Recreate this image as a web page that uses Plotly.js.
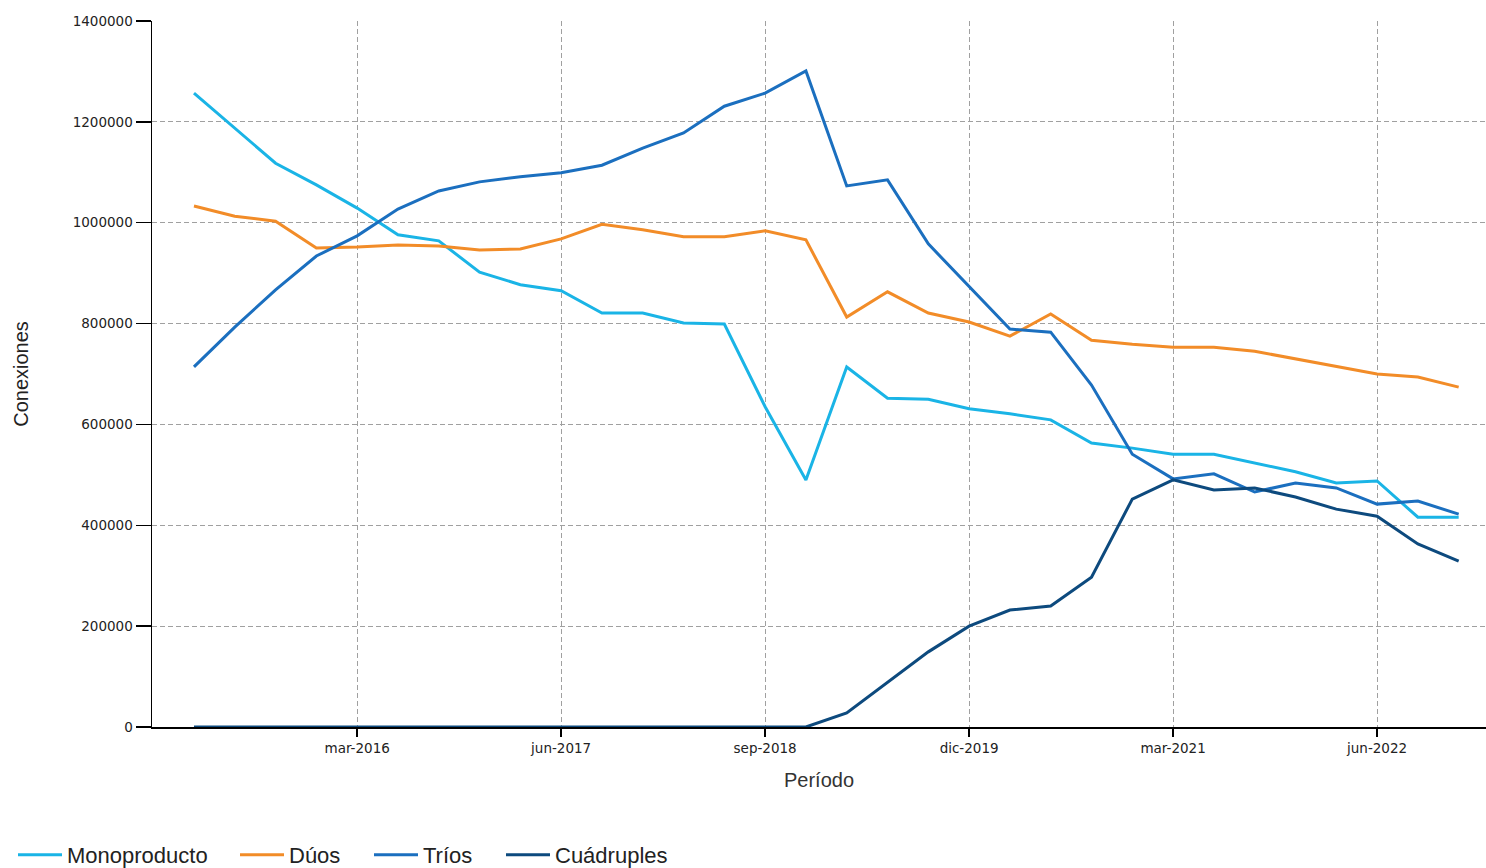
<!DOCTYPE html>
<html>
<head>
<meta charset="utf-8">
<script src="https://cdn.plot.ly/plotly-3.0.1.min.js"></script>
<style>
html,body{margin:0;padding:0;background:#fff;}
#chart{width:1486px;height:868px;}
</style>
</head>
<body>
<div id="chart"></div>
<script>
const periods = [
  "mar-2015","jun-2015","sep-2015","dic-2015",
  "mar-2016","jun-2016","sep-2016","dic-2016",
  "mar-2017","jun-2017","sep-2017","dic-2017",
  "mar-2018","jun-2018","sep-2018","dic-2018",
  "mar-2019","jun-2019","sep-2019","dic-2019",
  "mar-2020","jun-2020","sep-2020","dic-2020",
  "mar-2021","jun-2021","sep-2021","dic-2021",
  "mar-2022","jun-2022","sep-2022","dic-2022"
];
const monoproducto = [1257000,1188000,1118000,1075000,1029000,976000,964000,902000,877000,865000,821000,821000,801000,799000,635000,490000,714000,652000,650000,631000,621000,609000,563000,553000,541000,541000,524000,506000,484000,488000,416000,416000];
const duos = [1033000,1013000,1003000,950000,952000,956000,954000,946000,948000,968000,997000,986000,972000,972000,984000,966000,813000,863000,821000,803000,775000,819000,767000,759000,753000,753000,745000,730000,714000,700000,694000,674000];
const trios = [714000,793000,867000,934000,974000,1027000,1063000,1081000,1091000,1099000,1114000,1148000,1178000,1231000,1257000,1301000,1073000,1085000,958000,873000,789000,783000,678000,541000,492000,502000,466000,484000,474000,442000,448000,422000];
const cuadruples = [0,0,0,0,0,0,0,0,0,0,0,0,0,0,0,0,28000,89000,149000,200000,232000,240000,297000,452000,490000,470000,474000,456000,432000,418000,363000,329000];

const seriesNames = ["Monoproducto","Dúos","Tríos","Cuádruples"];
const seriesColors = ["#1ab4e6","#f28c28","#1b6fbf","#0d4a7e"];
const seriesValues = [monoproducto, duos, trios, cuadruples];

const xTickVals = ["mar-2016","jun-2017","sep-2018","dic-2019","mar-2021","jun-2022"];
const yTickVals = [0,200000,400000,600000,800000,1000000,1200000,1400000];

const W = 1486, H = 868;
const legendIds = ["legend","legend2","legend3","legend4"];
const legendLeftPx = [13, 235, 369, 501];

const traces = seriesValues.map((vals, k) => ({
  type: "scatter",
  mode: "lines",
  name: seriesNames[k],
  legend: legendIds[k],
  x: periods,
  y: vals,
  line: {color: seriesColors[k], width: 3}
}));

const tickFont = {family: "DejaVu Sans, Liberation Sans, Arial", size: 13.5, color: "#222"};
const legendFont = {family: "Liberation Sans, Arial", size: 22, color: "#222"};

const layout = {
  width: W,
  height: H,
  margin: {l: 152, r: 0, t: 21, b: 141},
  paper_bgcolor: "#ffffff",
  plot_bgcolor: "#ffffff",
  showlegend: true,
  xaxis: {
    type: "category",
    range: [-1.029, 31.67],
    tickmode: "array",
    tickvals: xTickVals,
    ticktext: xTickVals,
    ticks: "outside",
    ticklen: 8,
    tickwidth: 1.5,
    tickcolor: "#000",
    tickfont: tickFont,
    showline: true,
    linecolor: "#000",
    linewidth: 1.5,
    showgrid: true,
    gridcolor: "#a0a0a0",
    gridwidth: 1,
    griddash: "5px,3px",
    zeroline: false,
    automargin: false,
    title: {text: "Período", font: {family: "Liberation Sans, Arial", size: 20, color: "#333"}, standoff: 18}
  },
  yaxis: {
    range: [0, 1400000],
    tickmode: "array",
    tickvals: yTickVals,
    ticktext: yTickVals.map(v => String(v)),
    ticks: "outside",
    ticklen: 15,
    tickwidth: 1.5,
    tickcolor: "#000",
    tickfont: tickFont,
    showline: true,
    linecolor: "#000",
    linewidth: 1.5,
    showgrid: true,
    gridcolor: "#a0a0a0",
    gridwidth: 1,
    griddash: "5px,3px",
    zeroline: false,
    automargin: false,
    title: {text: "Conexiones", font: {family: "Liberation Sans, Arial", size: 20, color: "#222"}, standoff: 38}
  }
};

legendIds.forEach((id, k) => {
  layout[id] = {
    orientation: "h",
    xref: "container", yref: "container",
    x: legendLeftPx[k] / W, xanchor: "left",
    y: (H - 855) / H, yanchor: "middle",
    font: legendFont,
    itemwidth: 44,
    bgcolor: "rgba(0,0,0,0)",
    borderwidth: 0
  };
});

Plotly.newPlot("chart", traces, layout, {displayModeBar: false, staticPlot: true});
</script>
</body>
</html>
